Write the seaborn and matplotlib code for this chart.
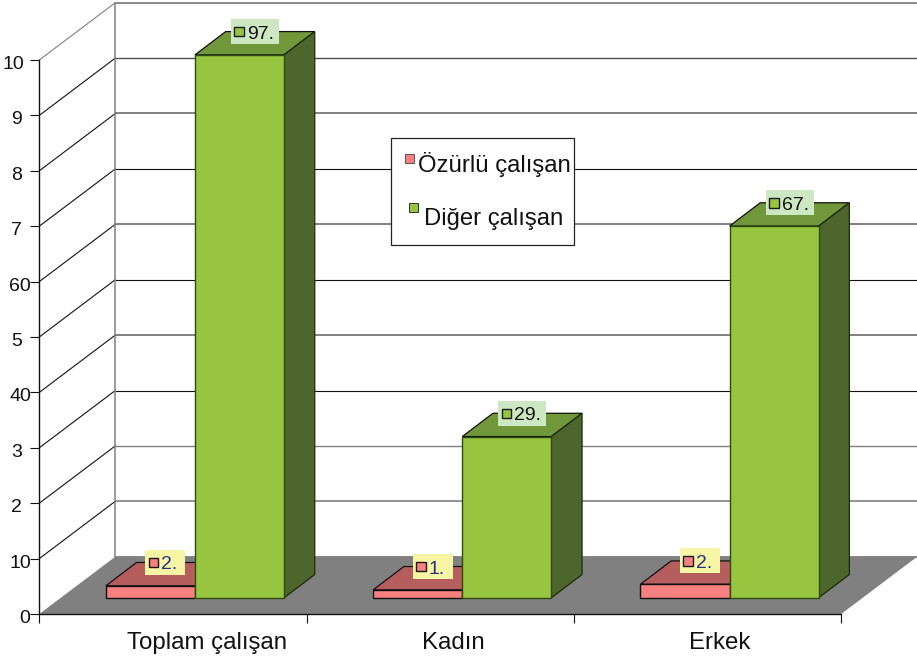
import matplotlib
matplotlib.use("Agg")
import matplotlib.pyplot as plt
import pandas as pd
import seaborn as sns
from matplotlib.patches import Polygon, Rectangle
from matplotlib.transforms import Affine2D, ScaledTranslation

# ---- data ----
categories = ["Toplam çalışan", "Kadın", "Erkek"]
series_names = ["Özürlü çalışan", "Diğer çalışan"]
ozurlu = [2.17, 1.44, 2.45]
diger = [98.0, 29.1, 67.1]
ozurlu_labels = ["2.", "1.", "2."]
diger_labels = ["97.", "29.", "67."]
y_ticks = [0, 10, 20, 30, 40, 50, 60, 70, 80, 90, 100]
y_tick_labels = ["0", "10", "2", "3", "40", "5", "60", "7", "8", "9", "10"]
label_nudge_px = [8, 9, 0, 0, 9, 0, 9, 0, 0, 0, 2]
cat_label_pos = [0.129, 1.048, 2.047]

# ---- style ----
W, H = 917, 657
PX_X, PX_Y = 267.3, 5.54           # pixels per category / per value unit
X0, Y0 = 39.3, 614.0               # pixel of (category edge, value 0)
PINK, PINK_TOP = "#F67F7F", "#B65D5D"
GREEN, GREEN_TOP, GREEN_SIDE = "#97C540", "#71973B", "#4D662C"
GREEN_EDGE = "#2F4A10"
FLOOR = "#808080"
grid_styles = {100: ("#808080", 1.3), 90: ("#505050", 1.0), 80: ("#808080", 1.4),
               70: ("#111111", 0.8), 60: ("#808080", 1.4), 50: ("#111111", 0.8),
               40: ("#808080", 1.4), 30: ("#111111", 0.8), 20: ("#808080", 1.0),
               10: ("#808080", 1.2), 0: ("#808080", 1.3)}

sns.set_style("white")
plt.rcParams["font.family"] = ["Liberation Sans", "DejaVu Sans"]

fig = plt.figure(figsize=(W / 100, H / 100), dpi=100)
ax = fig.add_axes([0, 0, 1, 1])

df = pd.DataFrame({
    "cat": categories * 2,
    "series": [series_names[0]] * 3 + [series_names[1]] * 3,
    "value": ozurlu + diger,
})
sns.barplot(data=df, x="cat", y="value", hue="series", order=categories,
            hue_order=series_names, palette=[PINK, GREEN], saturation=1,
            width=2 / 3, gap=0, dodge=True, legend=False, ax=ax)


def dx(px):
    return px / PX_X


def dy(px):
    return px / PX_Y


XMIN = -0.5 - dx(X0)
ax.set_xlim(XMIN, XMIN + dx(W))
ax.set_ylim(-dy(H - Y0), dy(Y0))
ax.set_xlabel("")
ax.set_ylabel("")

# walls and floor
WALL_X, WALL_Y = dx(76), dy(57.3)
x_left, x_right = -0.5, 2.5
ax.add_patch(Polygon([(x_left, 0), (x_right, 0), (x_right + WALL_X, WALL_Y),
                      (x_left + WALL_X, WALL_Y)], closed=True, fc=FLOOR, ec="none",
                     zorder=1))
for v in y_ticks:
    col, lw = grid_styles[v]
    ax.plot([x_left + WALL_X, x_right + WALL_X + 0.1], [v + WALL_Y] * 2, color=col,
            lw=lw, zorder=1.5, solid_capstyle="butt")
    if v > 0:
        ax.plot([x_left, x_left + WALL_X], [v, v + WALL_Y],
                color="#808080" if v == 100 else "#111111", lw=0.8, zorder=1.5)
ax.plot([x_left + WALL_X] * 2, [WALL_Y, 100 + WALL_Y], color="#808080", lw=1.1, zorder=1.6)

# 3D bars: seaborn draws the fronts, sides and tops follow from each bar
SHIFT_X, SHIFT_Y = dx(22), dy(16.2)
DEPTH_X, DEPTH_Y = dx(30.7), dy(23.3)
look = [(PINK_TOP, PINK_TOP, "#111111", 4, ozurlu_labels, "#F5F5A3", "#2B3087", PINK),
        (GREEN_TOP, GREEN_SIDE, GREEN_EDGE, 5, diger_labels, "#CDE7C3", "#111111", GREEN)]
for container, (top_c, side_c, edge, z, texts, box_c, txt_c, swatch) in zip(ax.containers, look):
    box_dx = 39.5 if swatch == PINK else 36
    box_w = 40 if swatch == PINK else 48
    for bar, text in zip(container, texts):
        bar.set_x(bar.get_x() + SHIFT_X)
        bar.set_y(SHIFT_Y)
        bar.set_edgecolor("#111111" if swatch == PINK else edge)
        bar.set_linewidth(1.0)
        bar.set_zorder(z + 0.2)
        x0, w, h = bar.get_x(), bar.get_width(), bar.get_height()
        y0 = SHIFT_Y
        top = y0 + h
        ax.add_patch(Polygon([(x0, top), (x0 + w, top), (x0 + w + DEPTH_X, top + DEPTH_Y),
                              (x0 + DEPTH_X, top + DEPTH_Y)], closed=True, fc=top_c,
                             ec="#111111", lw=0.9, zorder=z + 0.1))
        ax.add_patch(Polygon([(x0 + w, y0), (x0 + w + DEPTH_X, y0 + DEPTH_Y),
                              (x0 + w + DEPTH_X, top + DEPTH_Y), (x0 + w, top)], closed=True,
                             fc=side_c, ec="#1c2a0c", lw=0.9, zorder=z + 0.1))
        # data label with its key
        bx = x0 + dx(box_dx)
        by = top + dy(36)
        ax.add_patch(Rectangle((bx, by - dy(25)), dx(box_w), dy(25), fc=box_c, ec="none", zorder=6))
        ax.add_patch(Rectangle((bx + dx(3.5), by - dy(17.5)), dx(9.5), dy(9.5), fc=swatch,
                               ec="#1a1a1a", lw=1.0, zorder=6.1))
        ax.text(bx + dx(16), by - dy(13.2), text, color=txt_c, fontsize=14, ha="left",
                va="center_baseline", zorder=6.2)

# axes
for s in ("top", "right"):
    ax.spines[s].set_visible(False)
ax.spines["left"].set_position(("data", x_left))
ax.spines["left"].set_bounds(0, 100)
ax.spines["bottom"].set_position(("data", 0))
ax.spines["bottom"].set_bounds(x_left, x_right)
for s in ("left", "bottom"):
    ax.spines[s].set_color("#111111")
    ax.spines[s].set_linewidth(1.0)
    ax.spines[s].set_zorder(3)

ax.set_yticks(y_ticks, labels=y_tick_labels)
ax.tick_params(axis="y", which="major", left=True, length=6.5, width=0.8, color="#111111",
               pad=5.8, labelsize=14, labelcolor="#111111")
ax.set_xticks([-0.5, 0.5, 1.5, 2.5], labels=[""] * 4)
ax.set_xticks(cat_label_pos, labels=categories, minor=True)
ax.tick_params(axis="x", which="major", bottom=True, length=6.5, width=0.8, color="#111111")
ax.tick_params(axis="x", which="minor", bottom=False, length=6.5, pad=6.5, labelsize=17.3,
               labelcolor="#111111")
for lab, nudge in zip(ax.get_yticklabels(), label_nudge_px):
    lab.set_transform(lab.get_transform() +
                      ScaledTranslation(nudge / 100, -2.5 / 100, fig.dpi_scale_trans))

# legend box, in pixels of the picture
PIX = Affine2D().scale(1, -1).translate(0, H)
ax.add_patch(Rectangle((390.5, 138), 183, 107, fc="white", ec="#222222", lw=0.9,
                       transform=PIX, zorder=4))
ax.add_patch(Rectangle((405, 154), 9, 9, fc=PINK, ec="#555555", lw=0.7, transform=PIX, zorder=4.1))
ax.add_patch(Rectangle((408.5, 203), 9, 9, fc=GREEN, ec="#333333", lw=0.7, transform=PIX, zorder=4.1))
ax.text(418, 162, series_names[0], fontsize=17.2, color="#111111", transform=PIX,
        ha="left", va="center_baseline", zorder=4.2)
ax.text(424, 216.5, series_names[1], fontsize=17.2, color="#111111", transform=PIX,
        ha="left", va="center_baseline", zorder=4.2)

fig.savefig("out.png", dpi=100, facecolor="white")
